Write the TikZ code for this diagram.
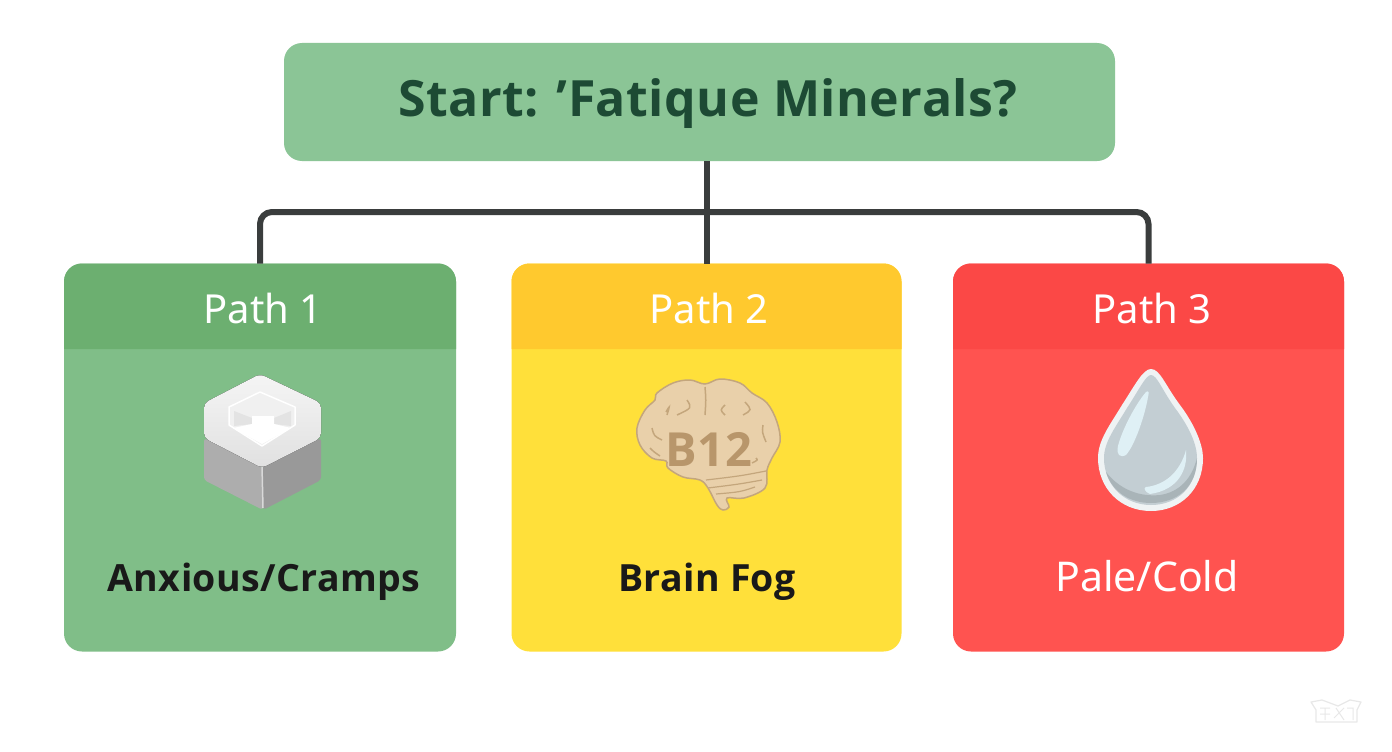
\documentclass[tikz,border=0pt]{standalone}
\usepackage{fontspec}
\usepackage{xcolor}
\setmainfont{Noto Sans}
\newfontfamily\titlefont[LetterSpace=1]{Open Sans}
\newfontfamily\labelfont{Noto Sans}
\definecolor{startgreen}{HTML}{8BC596}
\definecolor{startink}{HTML}{1D4A34}
\definecolor{wirecol}{HTML}{3A3D3D}
\definecolor{cardgreen}{HTML}{80BE88}
\definecolor{headgreen}{HTML}{6CAF70}
\definecolor{cardyellow}{HTML}{FFE03A}
\definecolor{headyellow}{HTML}{FFC92E}
\definecolor{cardred}{HTML}{FF5350}
\definecolor{headred}{HTML}{FB4846}
\definecolor{brainfill}{HTML}{E9D0AA}
\definecolor{brainline}{HTML}{C4A67C}
\definecolor{brainink}{HTML}{B8966B}
\definecolor{dropedge}{HTML}{EFF3F4}
\definecolor{dropfill}{HTML}{C3CED3}
\definecolor{dropdark}{HTML}{A9B4B8}
\definecolor{droplight}{HTML}{DFF0F5}
\tikzset{
  cardbox/.style={rectangle,rounded corners=18pt,minimum width=392pt,minimum height=388pt,inner sep=0pt,outer sep=0pt},
  startbox/.style={cardbox,fill=startgreen,minimum width=831pt,minimum height=118pt},
  wire/.style={draw=wirecol,line width=6pt},
  headtext/.style={white,font=\labelfont\fontsize{40}{44}\selectfont,text height=29pt,text depth=0pt,inner sep=0pt},
  bodytext/.style={font=\titlefont\bfseries\fontsize{37.5}{44}\selectfont,text height=29pt,text depth=9pt,inner sep=0pt}
}

\begin{document}
\begin{tikzpicture}[x=1pt,y=-1pt]
    \useasboundingbox[fill=white] (0,0) rectangle (1392,752);

    \node[startbox] (start) at (699.5,102) {};
    \node[startink,font=\titlefont\bfseries\fontsize{50}{58}\selectfont] (title) at (708,104) {Start: ’Fatique Minerals?};

    \node[cardbox,fill=cardgreen] (card1) at (260,457.5) {};
    \node[cardbox,fill=cardyellow,minimum width=390pt] (card2) at (706.5,457.5) {};
    \node[cardbox,fill=cardred,minimum width=391pt] (card3) at (1148.5,457.5) {};

    % coloured tops of the cards
    \foreach \x/\c in {card1/headgreen,card2/headyellow,card3/headred}
        \fill[\c] (\x.west |- 0,349) [rounded corners=18pt] -- (\x.north west) -- (\x.north east) [sharp corners] -- (\x.east |- 0,349) -- cycle;

    \node[headtext] (head1) at (263,309) {Path 1};
    \node[headtext] (head2) at (709,309) {Path 2};
    \node[headtext] (head3) at (1152,309) {Path 3};
    \node[bodytext,text=black!90] (body1) at (264,581) {Anxious/Cramps};
    \node[bodytext,text=black!90] (body2) at (707,581) {Brain Fog};
    \node[bodytext,white,font=\labelfont\fontsize{41}{44}\selectfont] (body3) at (1147,581) {Pale/Cold};

    \coordinate (hub) at (705,212);
    \draw[wire,rounded corners=12pt] (card1.north) |- (hub) -| (card3.north);
    \draw[wire] (start.south -| card2.north) -- (card2.north);

    % hexagon
    \fill[black!40,rounded corners=3pt] (262,466) -- (321,438) -- (321,480) -- (263,510) -- cycle;
    \fill[black!32,rounded corners=3pt] (204,438) -- (262,466) -- (263,510) -- (204,480) -- cycle;
    \draw[white!85!black,line width=1.5pt] (262,466) -- (263,508);
    \fill[top color=black!4,bottom color=black!12,rounded corners=5pt] (260,374) -- (321,403) -- (321,438) -- (262,468) -- (204,438) -- (204,403) -- cycle;
    \fill[black!6,draw=white,line width=1.5pt,line join=round] (260,392) -- (295,407) -- (295,425) -- (262,446) -- (229,425) -- (229,407) -- cycle;
    \fill[black!11] (234,411) -- (252,418) -- (252,424) -- (234,426) -- cycle;
    \fill[black!11] (274,418) -- (291,411) -- (291,426) -- (274,424) -- cycle;
    \fill[white] (252,416) -- (274,416) -- (274,424) -- (291,428) -- (262,444) -- (233,428) -- (252,424) -- cycle;

    % brain
    \fill[brainfill,draw=brainline,line width=1.5pt] plot[smooth cycle,tension=0.6] coordinates {
        (705,384) (720,379) (740,383) (752,393) (767,403) (777,422) (780,442) (772,458)
        (767,470) (765,488) (744,498) (727,498) (729,507) (723,510) (717,505) (708,488)
        (700,480) (683,477) (668,468) (666,461) (652,458) (640,445) (637,428) (645,410)
        (655,400) (657,393) (673,383) (690,380)};
    \foreach \ax/\ay/\bx/\by/\cx/\cy in {705/387/706/400/705/415,666/412/670/405/667/415,687/400/692/408/677/415,
        652/428/654/436/662/440,650/448/654/452/660/456,725/405/720/410/725/415,
        745/402/752/410/743/415,763/425/762/432/766/442,756/458/758/460/752/463}
        \draw[brainline,line width=1.5pt] (\ax,\ay) .. controls (\bx,\by) .. (\cx,\cy);
    \foreach \ax/\ay/\bx/\by/\cx/\cy in {706/480/740/476/766/471,708/488/740/484/762/480,716/494/740/492/755/487}
        \draw[brainline,line width=1.2pt] (\ax,\ay) .. controls (\bx,\by) .. (\cx,\cy);
    \node[brainink,font=\titlefont\bfseries\fontsize{47}{50}\selectfont] (b12) at (709,449) {B12};

    % drop
    \fill[dropedge] (1151,369) .. controls (1160,369) and (1165,385) .. (1180,405) .. controls (1195,425) and (1203,445) .. (1203,458) .. controls (1203,490) and (1180,511) .. (1151,511) .. controls (1120,511) and (1098,488) .. (1098,458) .. controls (1098,440) and (1110,425) .. (1122,405) .. controls (1135,385) and (1143,369) .. (1151,369) -- cycle;
    \fill[dropfill] (1151,375) .. controls (1157,375) and (1162,390) .. (1175,408) .. controls (1190,428) and (1197,445) .. (1197,458) .. controls (1197,487) and (1177,505) .. (1151,505) .. controls (1124,505) and (1104,485) .. (1104,458) .. controls (1104,442) and (1115,428) .. (1127,408) .. controls (1140,388) and (1146,375) .. (1151,375) -- cycle;
    \fill[dropdark] (1197,458) .. controls (1197,487) and (1177,503) .. (1151,503) .. controls (1130,503) and (1112,492) .. (1106,472) .. controls (1120,490) and (1140,497) .. (1160,495) .. controls (1180,492) and (1192,478) .. (1197,458) -- cycle;
    \fill[droplight] (1146,392) .. controls (1149,390) and (1149,393) .. (1148,397) .. controls (1145,415) and (1135,445) .. (1126,455) .. controls (1120,458) and (1116,455) .. (1118,446) .. controls (1122,430) and (1135,405) .. (1146,392) -- cycle;
    \fill[droplight] (1186,450) .. controls (1188,470) and (1178,490) .. (1150,494) .. controls (1145,492) and (1143,488) .. (1146,487) .. controls (1165,485) and (1180,472) .. (1186,450) -- cycle;

    % watermark
    \draw[black!9,line width=1.2pt,line join=round] (1311,702) -- (1322,700) -- (1338,706) -- (1350,700) -- (1361,702) -- (1357,710) -- (1357,722) -- (1316,722) -- (1316,710) -- cycle;
    \draw[black!9,line width=1pt] (1320,708) -- (1330,708) (1320,714) -- (1330,714) (1325,708) -- (1325,720) (1334,718) -- (1344,708) (1336,708) -- (1344,720) (1347,708) -- (1353,708) -- (1353,720);
\end{tikzpicture}
\end{document}
